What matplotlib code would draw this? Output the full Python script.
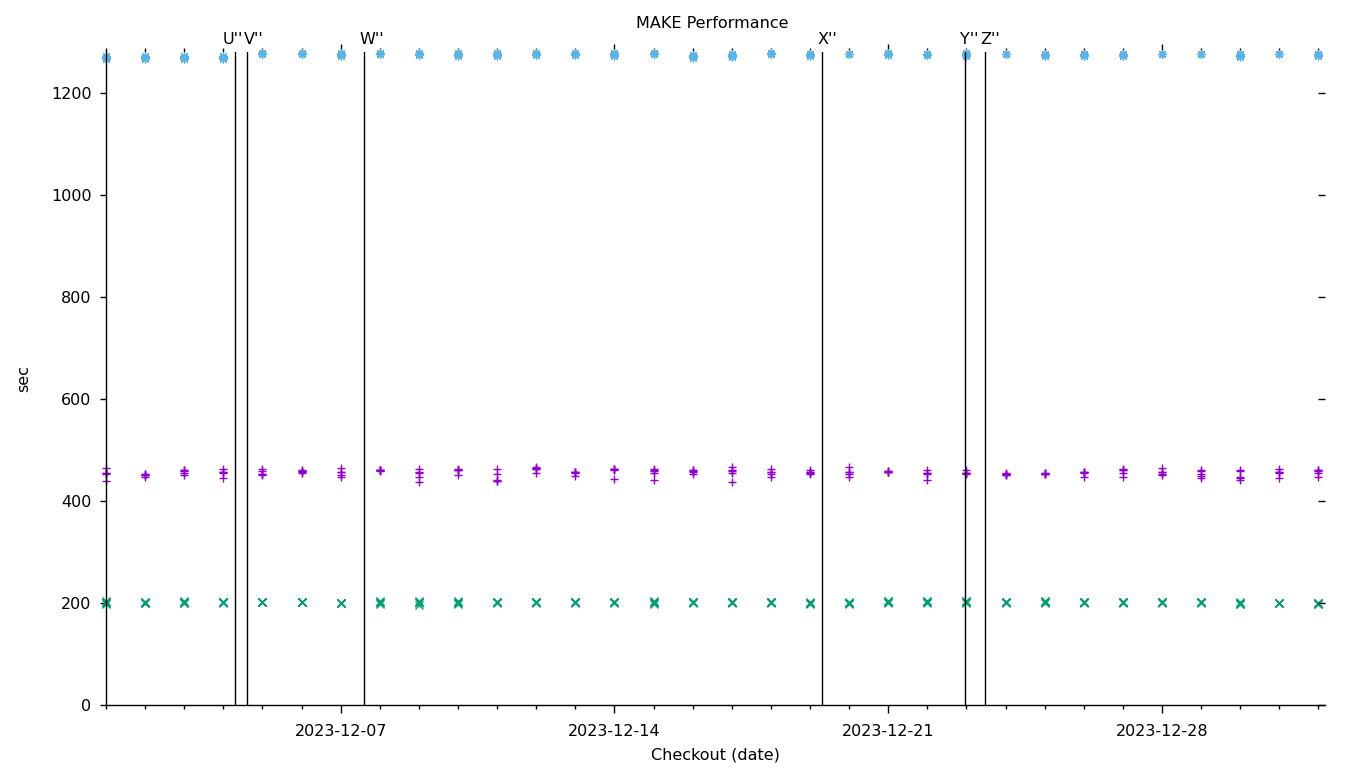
import matplotlib
matplotlib.use("Agg")
import matplotlib.pyplot as plt
import matplotlib.dates as mdates
import numpy as np
import datetime as dt

# ---- data ----
start_day = dt.datetime(2023, 12, 1)
n_days = 32
days = [start_day + dt.timedelta(days=i) for i in range(n_days)]

# series 1 (purple "+"), several runs per day
make_purple = [
    [464, 455, 453, 454, 439], [452, 451, 452, 447, 451], [461, 459, 455, 451, 460],
    [462, 456, 455, 445, 457], [462, 458, 452, 451, 452], [460, 458, 459, 454, 457],
    [464, 457, 456, 450, 446], [461, 460, 461, 459, 460], [462, 456, 455, 447, 437],
    [461, 460, 462, 451, 460], [463, 453, 440, 439, 441], [466, 463, 462, 454, 464],
    [457, 455, 456, 448, 457], [463, 462, 461, 443, 462], [463, 459, 455, 442, 460],
    [461, 460, 457, 453, 459], [467, 460, 458, 455, 438], [462, 457, 456, 452, 447],
    [461, 457, 456, 452, 455], [467, 457, 456, 453, 446], [458, 457, 456, 458, 457],
    [461, 454, 453, 442, 454], [461, 454, 453, 454, 455], [455, 452, 450, 451, 453],
    [455, 453, 452, 454, 453], [457, 455, 456, 446, 456], [462, 460, 454, 446, 461],
    [464, 457, 456, 452, 451], [460, 459, 453, 448, 445], [460, 459, 446, 445, 441],
    [463, 457, 455, 444, 456], [461, 460, 454, 446, 459],
]

# series 2 (green "x")
make_green = [
    [198, 200, 201, 202, 203], [200, 200, 201, 200, 201], [199, 200, 202, 203, 201],
    [200, 201, 201, 202, 201], [201, 201, 202, 201, 202], [201, 201, 202, 201, 201],
    [200, 200, 200, 200, 200], [198, 200, 201, 203, 202], [196, 199, 201, 204, 202],
    [197, 200, 202, 204, 201], [200, 201, 201, 202, 201], [200, 201, 201, 202, 201],
    [200, 201, 201, 202, 201], [200, 201, 201, 202, 201], [197, 199, 201, 203, 202],
    [200, 201, 201, 202, 201], [200, 201, 201, 202, 201], [200, 201, 201, 202, 201],
    [198, 199, 201, 200, 199], [198, 199, 200, 201, 199], [199, 201, 202, 204, 203],
    [199, 201, 202, 204, 203], [199, 201, 202, 204, 203], [200, 201, 201, 202, 201],
    [200, 201, 202, 204, 203], [200, 201, 201, 202, 201], [200, 201, 201, 202, 201],
    [200, 201, 201, 202, 201], [200, 201, 201, 202, 201], [197, 198, 199, 200, 201],
    [199, 199, 200, 200, 199], [197, 198, 199, 200, 199],
]

# series 3 (cyan "*")
make_cyan = [
    [1266, 1268, 1269, 1270, 1272], [1267, 1268, 1270, 1271, 1272], [1267, 1268, 1270, 1271, 1272],
    [1267, 1268, 1270, 1271, 1272], [1277, 1277, 1278, 1278, 1277], [1276, 1277, 1277, 1278, 1276],
    [1273, 1275, 1276, 1278, 1277], [1277, 1277, 1278, 1277, 1276], [1275, 1276, 1277, 1278, 1276],
    [1273, 1275, 1276, 1278, 1277], [1273, 1275, 1276, 1278, 1277], [1274, 1276, 1277, 1279, 1277],
    [1274, 1276, 1277, 1279, 1277], [1273, 1275, 1276, 1278, 1277], [1277, 1277, 1278, 1277, 1278],
    [1268, 1270, 1272, 1274, 1275], [1270, 1272, 1274, 1276, 1275], [1276, 1277, 1278, 1279, 1277],
    [1273, 1275, 1276, 1277, 1276], [1276, 1277, 1276, 1277, 1276], [1275, 1277, 1278, 1279, 1276],
    [1274, 1275, 1276, 1277, 1276], [1273, 1275, 1276, 1278, 1276], [1276, 1276, 1277, 1276, 1277],
    [1272, 1274, 1275, 1276, 1275], [1273, 1275, 1276, 1277, 1276], [1272, 1274, 1275, 1277, 1276],
    [1276, 1277, 1276, 1277, 1276], [1276, 1276, 1277, 1276, 1276], [1271, 1273, 1275, 1276, 1277],
    [1276, 1277, 1276, 1277, 1276], [1273, 1275, 1276, 1277, 1276],
]

event_labels = ["U''", "V''", "W''", "X''", "Y''", "Z''"]
event_times = [
    dt.datetime(2023, 12, 4, 7, 12), dt.datetime(2023, 12, 4, 14, 34),
    dt.datetime(2023, 12, 7, 14, 23), dt.datetime(2023, 12, 19, 7, 32),
    dt.datetime(2023, 12, 22, 23, 20), dt.datetime(2023, 12, 23, 11, 37),
]

y_ticks = [0, 200, 400, 600, 800, 1000, 1200]

# ---- plot ----
plt.rcParams['font.family'] = ['DejaVu Sans']
fig = plt.figure(figsize=(13.6, 7.68), dpi=100)
ax = fig.add_axes([106/1360, 1 - 705/768, (1325-106)/1360, (705-52)/768])

def flat(series):
    xs, ys = [], []
    for d, vals in zip(days, series):
        for v in vals:
            xs.append(d)
            ys.append(v)
    return xs, ys

xp, yp = flat(make_purple)
xg, yg = flat(make_green)
xc, yc = flat(make_cyan)

ax.plot(xp, yp, linestyle='none', marker='+', markersize=6, markeredgewidth=1.0,
        color='#9400D3', clip_on=False)
ax.plot(xg, yg, linestyle='none', marker='x', markersize=6.2, markeredgewidth=0.9,
        color='#009E73', clip_on=False)
ax.plot(xc, yc, linestyle='none', marker=(8, 2, 0), markersize=6.2, markeredgewidth=0.8,
        color='#56B4E9', clip_on=False)

label_offsets = [-12, -3, -5, -5, -5, -5]
for t, lab, off in zip(event_times, event_labels, label_offsets):
    ax.axvline(t, color='black', linewidth=1)
    ax.annotate(lab, xy=(mdates.date2num(t), 1), xycoords=('data', 'axes fraction'),
                xytext=(off, 12), textcoords='offset pixels', ha='left', va='center',
                fontsize=11.5)

ax.set_xlim(mdates.date2num(dt.datetime(2023, 12, 1)),
            mdates.date2num(dt.datetime(2024, 1, 1, 4, 0)))
ax.set_ylim(0, 1280)

ax.set_yticks(y_ticks)
ax.xaxis.set_major_locator(mdates.DayLocator(bymonthday=[7, 14, 21, 28]))
ax.xaxis.set_major_formatter(mdates.DateFormatter('%Y-%m-%d'))
ax.xaxis.set_minor_locator(mdates.DayLocator())

ax.tick_params(axis='x', which='major', direction='out', length=6, width=1,
               top=True, labelsize=11.5, pad=8)
ax.tick_params(axis='x', which='minor', direction='out', length=3, width=1, top=True)
ax.tick_params(axis='y', which='major', direction='out', length=4.5, width=1,
               labelsize=11.5, pad=6)

ax.spines['top'].set_visible(False)
ax.spines['right'].set_visible(False)
for s in ('left', 'bottom'):
    ax.spines[s].set_linewidth(1)

ax2 = ax.twinx()
ax2.set_ylim(0, 1280)
ax2.set_yticks(y_ticks)
ax2.tick_params(axis='y', direction='in', length=5, width=1, labelright=False)
for s in ax2.spines.values():
    s.set_visible(False)

ax.set_xlabel('Checkout (date)', fontsize=11.5, labelpad=6)
ax.set_ylabel('sec', fontsize=11.5, labelpad=14)
fig.text(712/1360, 1 - 24/768, 'MAKE Performance', ha='center', va='center', fontsize=11.5)

fig.savefig('out.png', dpi=100)
